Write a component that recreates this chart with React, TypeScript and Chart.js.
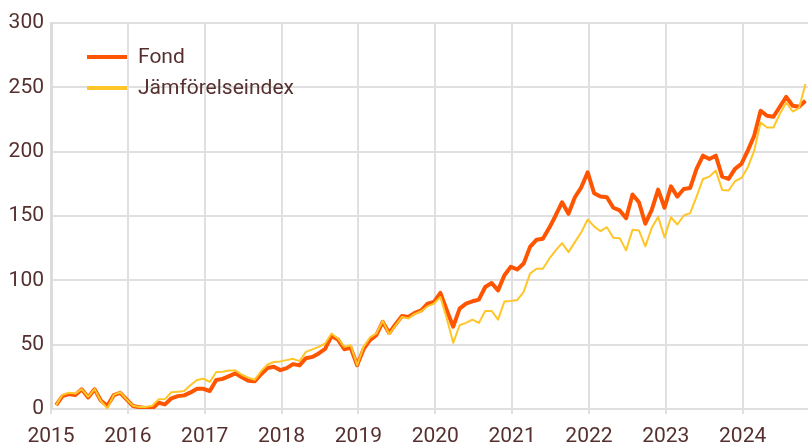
import React, { useEffect, useRef } from "react";
import { Chart, registerables } from "chart.js";

Chart.register(...registerables);

const startYear = 2015;
const yearTicks = [2015, 2016, 2017, 2018, 2019, 2020, 2021, 2022, 2023, 2024];
const valueTicks = [0, 50, 100, 150, 200, 250, 300];
const seriesNames = ["Fond", "Jämförelseindex"];
const seriesColors = ["#ff5500", "#ffc629"];

const fondValues = [
  3, 10, 11.6, 10.8, 15.3, 9, 15.3, 6.4, 2.5, 10.8, 12.6, 7.5,
  2.3, 1.3, 0.8, 0.2, 4.9, 3.6, 8.3, 10, 10.6, 12.9, 15.7, 15.7,
  14, 22.5, 23.4, 25.6, 27.7, 24.6, 22, 21.5, 27, 31.8, 32.8, 30.2,
  31.8, 34.9, 33.9, 39.5, 40.5, 43.2, 46.7, 56.6, 54, 46.5, 47.5, 34,
  46.5, 53.5, 57.4, 67.7, 59.1, 65.9, 72.3, 71.6, 74.7, 76.7, 81.9, 83.2,
  90.2, 76.7, 64, 78, 81.9, 83.7, 85, 94.8, 97.9, 92.2, 104, 110.5,
  108.5, 113, 126, 131.5, 132.3, 140.8, 150.4, 160.7, 151.7, 164.6, 172.3, 184,
  167.7, 165.1, 164.6, 156.4, 154.3, 148.3, 166.7, 160.7, 144, 154.8, 170.5, 156.4,
  173, 165.1, 171, 171.8, 186.6, 196.9, 194.3, 196.9, 180.6, 178.8, 186.6, 190.5,
  200.8, 212.4, 231.8, 227.9, 227.1, 234.9, 242.6, 235.7, 234.9, 239.5,
];

const indexValues = [
  3, 11, 12.6, 12, 15.5, 9.5, 15.5, 6, 0.5, 11, 13, 7.5,
  2.5, 1.5, 1.5, 2.5, 7.5, 7.7, 13, 13.5, 14, 18.6, 22.5, 23.5,
  21, 28.7, 29, 30, 30, 26.6, 24.4, 22.7, 29.4, 34.6, 36.5, 37,
  38, 39, 37.2, 44.4, 46.3, 48.3, 50.9, 58.7, 54.8, 48.3, 49.6, 34,
  48.3, 55.6, 58.7, 68.5, 58.1, 65, 71.6, 70.3, 73.9, 76, 79.8, 81.9,
  87, 70.3, 51.4, 65.1, 66.9, 69.5, 66.9, 76.2, 76.2, 69.5, 83.6, 84,
  84.7, 91, 105.2, 109, 109, 116.8, 123.3, 128.9, 121.9, 129.7, 137.4, 147.3,
  141.9, 138.2, 141.3, 133.1, 132.8, 123.3, 139.3, 138.8, 126.4, 140.8, 149.3, 133.4,
  149, 143.4, 150.4, 152.2, 165.1, 178.8, 180.6, 185.3, 170.3, 169.8, 177, 179.6,
  187.8, 200.8, 222.7, 218.8, 218.8, 229.2, 238.2, 231.2, 233.9, 252.5,
];

// month-end dates expressed as fractional years
const monthDates = fondValues.map((_, i) => startYear + (i + 0.8) / 12);

const textColor = "#55302f";
const gridColor = "#e0e0e0";
const fontFamily = "Roboto";

export default function App() {
  const ref = useRef<HTMLCanvasElement | null>(null);

  useEffect(() => {
    document.body.style.margin = "0";
    const canvas = ref.current;
    if (!canvas) return;

    const legendPlugin = {
      id: "insideLegend",
      afterDraw(chart: any) {
        const { ctx, chartArea } = chart;
        ctx.save();
        ctx.font = `21px ${fontFamily}`;
        ctx.textBaseline = "middle";
        ctx.textAlign = "left";
        seriesNames.forEach((name, i) => {
          const y = chartArea.top + 34 + i * 31;
          const x0 = chartArea.left + 36;
          ctx.strokeStyle = seriesColors[i];
          ctx.lineWidth = 4;
          ctx.beginPath();
          ctx.moveTo(x0, y);
          ctx.lineTo(x0 + 40, y);
          ctx.stroke();
          ctx.fillStyle = textColor;
          ctx.fillText(name, x0 + 51, y + 1);
        });
        ctx.restore();
      },
    };

    const chart = new Chart(canvas, {
      type: "line",
      data: {
        datasets: [
          {
            label: seriesNames[0],
            data: fondValues.map((v, i) => ({ x: monthDates[i], y: v })),
            borderColor: seriesColors[0],
            backgroundColor: seriesColors[0],
            borderWidth: 4,
            pointRadius: 0,
            tension: 0,
            borderJoinStyle: "round",
            order: 1,
          },
          {
            label: seriesNames[1],
            data: indexValues.map((v, i) => ({ x: monthDates[i], y: v })),
            borderColor: seriesColors[1],
            backgroundColor: seriesColors[1],
            borderWidth: 2,
            pointRadius: 0,
            tension: 0,
            borderJoinStyle: "round",
            order: 0,
          },
        ],
      },
      options: {
        responsive: false,
        animation: false,
        layout: { padding: { top: 23, left: 2, right: 0, bottom: 0 } },
        plugins: {
          legend: { display: false },
          tooltip: { enabled: false },
        },
        scales: {
          x: {
            type: "linear",
            min: 2015,
            max: 2024.85,
            afterBuildTicks: (axis: any) => {
              axis.ticks = yearTicks.map((v) => ({ value: v }));
            },
            afterFit: (axis: any) => {
              axis.height = 34;
            },
            ticks: {
              color: textColor,
              font: { family: fontFamily, size: 21, lineHeight: 1 },
              padding: 12,
              maxRotation: 0,
              autoSkip: false,
              callback: (v: any) => String(v),
            },
            grid: { color: gridColor, lineWidth: 2, tickLength: 5 },
            border: { color: gridColor, width: 2 },
          },
          y: {
            min: 0,
            max: 300,
            afterBuildTicks: (axis: any) => {
              axis.ticks = valueTicks.map((v) => ({ value: v }));
            },
            afterFit: (axis: any) => {
              axis.width = 49;
            },
            ticks: {
              color: textColor,
              font: { family: fontFamily, size: 21 },
              padding: 7,
            },
            grid: { color: gridColor, lineWidth: 2, drawTicks: false },
            border: { color: "#dcdcdc", width: 3 },
          },
        },
      },
      plugins: [legendPlugin],
    });

    return () => chart.destroy();
  }, []);

  return (
    <div style={{ width: 808, height: 443 }}>
      <canvas ref={ref} width={808} height={443} />
    </div>
  );
}
